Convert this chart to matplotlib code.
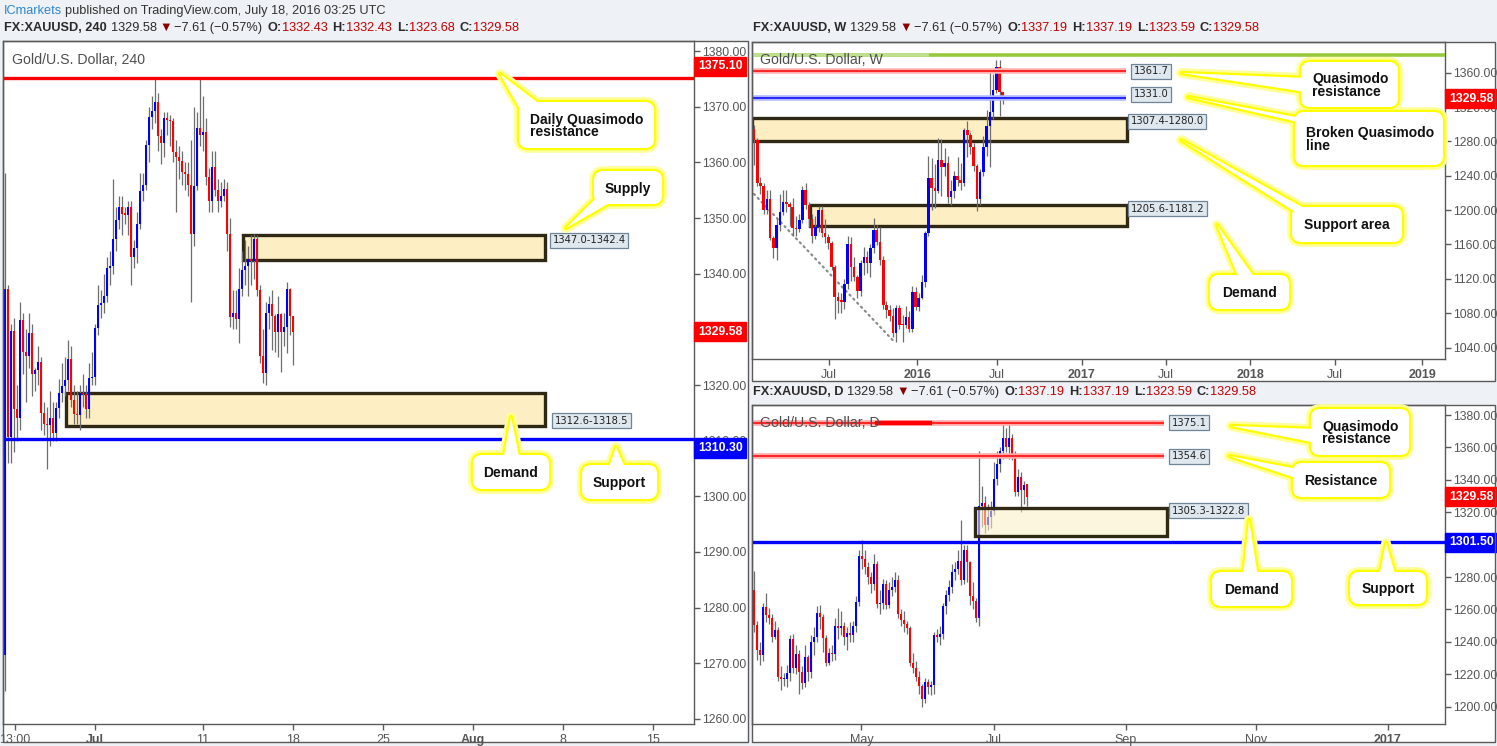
import matplotlib
matplotlib.use("Agg")
import matplotlib.pyplot as plt
from matplotlib.patches import Rectangle, FancyBboxPatch, Polygon
import numpy as np

# ------------------------------------------------------------------ DATA
# 4-hour candles (Jun 24 -> Jul 18 2016)
h4_open = [1271.5, 1337.2, 1310.7, 1329.7, 1315.6, 1314.1, 1331.7, 1326.0, 1325.3, 1329.3,
           1321.9, 1322.7, 1324.1, 1315.0, 1313.0, 1312.8, 1314.1, 1311.4, 1315.8, 1318.6,
           1319.8, 1320.9, 1324.6, 1317.3, 1314.8, 1314.6, 1318.5, 1318.3, 1315.6, 1321.2,
           1321.5, 1330.2, 1334.4, 1334.7, 1335.9, 1341.1, 1341.4, 1346.3, 1349.6, 1352.0,
           1350.8, 1350.6, 1352.0, 1343.0, 1344.7, 1349.0, 1354.8, 1355.9, 1363.1, 1368.2,
           1369.2, 1370.8, 1364.7, 1363.5, 1367.9, 1367.6, 1367.4, 1361.9, 1360.9, 1360.3,
           1358.3, 1357.9, 1356.0, 1347.2, 1355.7, 1366.2, 1365.0, 1365.4, 1357.4, 1353.1,
           1359.1, 1355.1, 1353.1, 1353.9, 1355.3, 1347.1, 1332.3, 1332.9, 1331.9, 1337.2,
           1340.6, 1341.3, 1342.6, 1342.3, 1346.2, 1337.1, 1325.3, 1322.1, 1332.9, 1334.5,
           1332.4, 1329.6, 1332.7, 1329.6, 1330.4, 1337.2, 1332.43]
h4_high = [1358, 1338, 1331, 1332, 1320, 1335, 1333, 1330, 1333, 1331,
           1323, 1327, 1325, 1317, 1316, 1319, 1317, 1317, 1321, 1324,
           1325, 1328, 1327, 1320, 1319, 1320, 1322, 1320, 1324, 1326,
           1331, 1338, 1337, 1340, 1343, 1344, 1357, 1352, 1354, 1354,
           1352, 1353, 1353, 1346, 1351, 1358, 1358, 1364, 1370, 1372,
           1375.2, 1372.5, 1366, 1369, 1369, 1368.5, 1368, 1364, 1363, 1362,
           1360, 1360, 1364, 1370, 1369, 1375.2, 1372, 1368, 1359, 1362,
           1362, 1357, 1356.5, 1357, 1356.5, 1350, 1337, 1337, 1341, 1344,
           1346, 1345, 1347, 1347.2, 1347, 1338, 1330, 1335, 1336, 1337,
           1332.8, 1336, 1333, 1333, 1338.5, 1337.5, 1332.43]
h4_low = [1265, 1306, 1306, 1308, 1310, 1312, 1322, 1317, 1323, 1318,
          1319, 1320, 1312, 1311, 1305, 1309, 1310, 1310, 1314, 1317,
          1318, 1319, 1316, 1313, 1313, 1312, 1316, 1314, 1314, 1320,
          1320, 1329, 1332, 1333, 1335, 1338, 1340, 1344, 1348, 1347,
          1349, 1347, 1338, 1341, 1342, 1348, 1353, 1355, 1360, 1366,
          1367, 1362, 1359.7, 1361, 1365, 1363, 1360, 1351, 1357, 1356,
          1355, 1354, 1335, 1345, 1355, 1363, 1362, 1356, 1351, 1351,
          1354, 1351, 1352, 1353, 1344, 1330.5, 1330, 1330, 1327.5, 1336,
          1338, 1336, 1338, 1339, 1336, 1324, 1320.3, 1320, 1330, 1326.3,
          1326, 1325, 1322.4, 1327, 1325.7, 1329, 1323.68]
h4_close = [1337.2, 1310.7, 1329.7, 1315.6, 1314.1, 1331.7, 1326.0, 1325.3, 1329.3, 1321.9,
            1322.7, 1324.1, 1315.0, 1313.0, 1312.8, 1314.1, 1311.4, 1315.8, 1318.6, 1319.8,
            1320.9, 1324.6, 1317.3, 1314.8, 1314.6, 1318.5, 1318.3, 1315.6, 1321.2, 1321.5,
            1330.2, 1334.4, 1334.7, 1335.9, 1341.1, 1341.4, 1346.3, 1349.6, 1352.0, 1350.8,
            1350.6, 1352.0, 1343.0, 1344.7, 1349.0, 1354.8, 1355.9, 1363.1, 1368.2, 1369.2,
            1370.8, 1364.7, 1363.5, 1367.9, 1367.6, 1367.4, 1361.9, 1360.9, 1360.3, 1358.3,
            1357.9, 1356.0, 1347.2, 1355.7, 1366.2, 1365.0, 1365.4, 1357.4, 1353.1, 1359.1,
            1355.1, 1353.1, 1353.9, 1355.3, 1347.1, 1332.3, 1332.9, 1331.9, 1337.2, 1340.6,
            1341.3, 1342.6, 1342.3, 1346.2, 1337.1, 1325.3, 1322.1, 1332.9, 1334.5, 1332.4,
            1329.6, 1332.7, 1329.6, 1330.4, 1337.2, 1332.4, 1329.58]
h4_tick_pos = [3.3, 30, 66, 96, 126, 156, 186, 216]
h4_tick_lab = ['13:00', 'Jul', '11', '18', '25', 'Aug', '8', '15']
h4_yticks = [1260, 1270, 1280, 1290, 1300, 1310, 1320, 1340, 1350, 1360, 1370, 1380]
h4_qm_res = 1375.10
h4_support = 1310.30
h4_supply = (1342.4, 1347.0)
h4_demand = (1312.6, 1318.5)

# weekly candles (Jan 26 2015 -> Jul 18 2016)
w_open = [1294, 1281.7, 1232, 1228.5, 1200.2, 1213, 1167.2, 1156.4, 1182.8, 1198.3,
          1209.1, 1207.2, 1203.3, 1178.9, 1177.7, 1188.6, 1223.5, 1206, 1189.4, 1170.3,
          1180.8, 1200.2, 1173.8, 1169.2, 1162.2, 1134.2, 1098.6, 1094.7, 1093.5, 1114.1,
          1160.6, 1134.2, 1121.8, 1106.3, 1138.1, 1145.9, 1138.1, 1155.6, 1176.9, 1163.4,
          1142, 1089.6, 1083.8, 1076.8, 1056.7, 1085.8, 1066.4, 1066.0, 1076.1, 1061.3,
          1105.2, 1087.7, 1097.4, 1116.8, 1173, 1237.1, 1225.4, 1222.7, 1258.4, 1249.9,
          1254.5, 1215.7, 1222.7, 1239.8, 1235.1, 1232, 1293.3, 1287.5, 1273.9, 1251.4,
          1212.6, 1244.8, 1273.2, 1298, 1314.7, 1339.9, 1366.5, 1337.19]
w_high = [1299, 1284, 1238, 1232, 1223, 1224, 1170, 1190, 1219, 1224,
          1224, 1209, 1214, 1193, 1195, 1228, 1232, 1209, 1195, 1193,
          1205, 1205, 1190, 1172, 1164, 1136, 1105, 1104, 1120, 1170,
          1169, 1146, 1125, 1142, 1157, 1152, 1160, 1190.5, 1183, 1180,
          1147, 1094, 1090, 1086, 1090, 1089, 1078, 1088, 1082, 1112,
          1111, 1103, 1124, 1176, 1263, 1261, 1254, 1283.6, 1283, 1272,
          1263, 1235, 1245, 1262, 1255, 1296, 1304, 1291, 1278, 1254,
          1248, 1286, 1316, 1362, 1358, 1375, 1375, 1337.19]
w_low = [1252.6, 1228, 1219, 1195, 1196, 1165, 1144, 1142, 1176, 1194,
         1198, 1181, 1170, 1170, 1174, 1185, 1201, 1180, 1162, 1166,
         1174, 1169, 1162, 1155, 1130, 1073, 1080, 1080, 1085, 1108,
         1118, 1118, 1098, 1100, 1124, 1127, 1122, 1150, 1159, 1136,
         1085, 1075, 1071, 1052, 1046, 1062, 1047, 1063, 1058, 1058,
         1084, 1083, 1096, 1111, 1170, 1200, 1202, 1220, 1216, 1240,
         1208, 1206, 1214, 1228, 1223, 1228, 1262, 1265, 1245, 1199,
         1206, 1240, 1263, 1250, 1306, 1336, 1310, 1323.59]
w_close = [1281.7, 1232, 1228.5, 1200.2, 1213, 1167.2, 1156.4, 1182.8, 1198.3, 1209.1,
           1207.2, 1203.3, 1178.9, 1177.7, 1188.6, 1223.5, 1206, 1189.4, 1170.3, 1180.8,
           1200.2, 1173.8, 1169.2, 1162.2, 1134.2, 1098.6, 1094.7, 1093.5, 1114.1, 1160.6,
           1134.2, 1121.8, 1106.3, 1138.1, 1145.9, 1138.1, 1155.6, 1176.9, 1163.4, 1142,
           1089.6, 1083.8, 1076.8, 1056.7, 1085.8, 1066.4, 1066.0, 1076.1, 1061.3, 1105.2,
           1087.7, 1097.4, 1116.8, 1173, 1237.1, 1225.4, 1222.7, 1258.4, 1249.9, 1254.5,
           1215.7, 1222.7, 1239.8, 1235.1, 1232, 1293.3, 1287.5, 1273.9, 1251.4, 1212.6,
           1244.8, 1273.2, 1298, 1314.7, 1339.9, 1366.5, 1337.2, 1329.58]
w_tick_pos = [23.2, 50.6, 75.3, 101.4, 127.6, 153.6, 179.9, 206.8]
w_tick_lab = ['Jul', '2016', 'Jul', '2017', 'Jul', '2018', 'Jul', '2019']
w_yticks = [1040, 1080, 1120, 1160, 1200, 1240, 1280, 1320, 1360]
w_qm_res = 1361.7
w_broken_qm = 1331.0
w_top_line = 1380.6
w_support_area = (1280.0, 1307.4)
w_demand = (1181.2, 1205.6)
w_trend_x = [-1.2, 43.1]
w_trend_y = [1223.5, 1048.0]

# daily candles (Mar 11 -> Jul 18 2016)
d_open = [1272, 1250.4, 1235, 1232, 1261.7, 1256.5, 1254.5, 1243.2, 1247.3, 1218.5,
          1216.8, 1217.2, 1221, 1241.5, 1223.6, 1232.5, 1221.6, 1214.8, 1230.4, 1221.6,
          1240.1, 1243, 1257.6, 1255.5, 1242.1, 1227.1, 1232.9, 1232.5, 1249.8, 1248.3,
          1249.8, 1243.2, 1245.6, 1244, 1250, 1264.8, 1293, 1291, 1286, 1280,
          1276, 1288, 1263.3, 1264, 1276, 1263, 1272, 1273.6, 1278, 1257.5,
          1253.4, 1251, 1248.3, 1226.7, 1223.6, 1218.4, 1212.7, 1204.5, 1215.4, 1212.3,
          1213.3, 1244.2, 1243.2, 1245, 1262, 1269, 1273.6, 1283.3, 1285, 1290,
          1278, 1297, 1289, 1268, 1265, 1255, 1324, 1326, 1312, 1317,
          1321, 1340.3, 1350, 1358, 1365.6, 1360, 1366, 1354.3, 1332.7, 1342,
          1333.7, 1337.19]
d_high = [1284, 1253, 1240, 1264, 1270, 1261, 1257, 1253, 1249, 1225,
          1221, 1226, 1244, 1245, 1238, 1235, 1225, 1238, 1232, 1244,
          1249, 1262, 1263, 1257, 1244, 1236, 1238, 1255, 1261, 1259,
          1252, 1249, 1252, 1253, 1268, 1297, 1303, 1297, 1289, 1283,
          1294, 1290, 1272, 1279, 1278, 1277, 1280, 1283, 1281, 1260,
          1259, 1253, 1250, 1233, 1228, 1222, 1214, 1218, 1217, 1216,
          1246, 1248, 1250, 1264, 1272, 1278, 1288, 1289, 1297, 1315,
          1300, 1300, 1290, 1277, 1267, 1358, 1336, 1330, 1325, 1327,
          1351, 1358, 1360, 1375, 1372, 1375, 1368, 1358, 1347, 1345,
          1339, 1337.19]
d_low = [1246, 1229, 1226, 1228, 1252, 1251, 1240, 1242, 1216, 1210,
         1213, 1212, 1216, 1221, 1220, 1208, 1211, 1212, 1216, 1218,
         1232, 1240, 1248, 1234, 1225, 1226, 1228, 1229, 1242, 1244,
         1238, 1235, 1240, 1240, 1246, 1262, 1285, 1282, 1276, 1270,
         1272, 1261, 1257, 1260, 1260, 1261, 1268, 1271, 1255, 1250,
         1246, 1245, 1225, 1221, 1216, 1208, 1200, 1202, 1208, 1207,
         1208, 1240, 1238, 1242, 1257, 1265, 1270, 1278, 1282, 1275,
         1276, 1277, 1263, 1260, 1252, 1250, 1311, 1307, 1309, 1310,
         1318, 1337, 1345, 1353, 1357, 1353, 1352, 1330, 1330, 1320,
         1325, 1323.59]
d_close = [1250.4, 1235, 1232, 1261.7, 1256.5, 1254.5, 1243.2, 1247.3, 1218.5, 1216.8,
           1217.2, 1221, 1241.5, 1223.6, 1232.5, 1221.6, 1214.8, 1230.4, 1221.6, 1240.1,
           1243, 1257.6, 1255.5, 1242.1, 1227.1, 1232.9, 1232.5, 1249.8, 1248.3, 1249.8,
           1243.2, 1245.6, 1244, 1250, 1264.8, 1293, 1291, 1286, 1280, 1276,
           1288, 1263.3, 1264, 1276, 1263, 1272, 1273.6, 1278, 1257.5, 1253.4,
           1251, 1248.3, 1226.7, 1223.6, 1218.4, 1212.7, 1204.5, 1215.4, 1212.3, 1213.3,
           1244.2, 1243.2, 1245, 1262, 1269, 1273.6, 1283.3, 1285, 1290, 1278,
           1297, 1289, 1268, 1265, 1255, 1324, 1326, 1312, 1317, 1321,
           1340.3, 1350, 1358, 1365.6, 1360, 1366, 1354.3, 1332.7, 1342, 1333.7,
           1337, 1329.58]
d_tick_pos = [35.8, 80, 123.9, 167.2, 211.3]
d_tick_lab = ['May', 'Jul', 'Sep', 'Nov', '2017']
d_yticks = [1200, 1220, 1240, 1260, 1280, 1320, 1340, 1360, 1380]
d_qm_res = 1375.1
d_resistance = 1354.6
d_support = 1301.50
d_demand = (1305.3, 1322.8)
last_close = 1329.58

# ------------------------------------------------------------------ STYLE
W, H = 1497, 746
PAGE = '#eef1f5'
UP, DN, WICK = '#0000ff', '#ff0000', '#6e6e6e'
GRID_TXT = '#555555'
SPINE = '#5a5a5a'
ZONE_FC = '#fdefc3'
ZONE_EC = '#2e2815'
NARROW = ['Liberation Sans Narrow', 'Liberation Sans', 'DejaVu Sans']
BOLD = ['Liberation Sans', 'DejaVu Sans']

fig = plt.figure(figsize=(W / 100, H / 100), dpi=100, facecolor=PAGE)


def px_axes(x0, y0, x1, y1, z=1):
    return fig.add_axes([x0 / W, 1 - y1 / H, (x1 - x0) / W, (y1 - y0) / H], zorder=z)


# background panels (white) in pixel space
bg = px_axes(0, 0, W, H, z=-10)
bg.set_xlim(0, W); bg.set_ylim(H, 0); bg.axis('off')
panels = [(3, 41, 748, 742), (752, 42, 1495, 381), (752, 405, 1495, 742)]
for (x0, y0, x1, y1) in panels:
    bg.add_patch(Rectangle((x0, y0), x1 - x0, y1 - y0, fc='white', ec='none'))

# overlay in pixel space
ov = px_axes(0, 0, W, H, z=10)
ov.set_xlim(0, W); ov.set_ylim(H, 0); ov.axis('off')
ov.patch.set_alpha(0)
for (x0, y0, x1, y1) in panels:
    ov.add_patch(Rectangle((x0, y0), x1 - x0, y1 - y0, fc='none', ec=SPINE, lw=1))


def draw_candles(ax, o, h, l, c, width, minh, z=3):
    o, h, l, c = map(np.asarray, (o, h, l, c))
    x = np.arange(len(o))
    up = c >= o
    ax.vlines(x, l, h, color=WICK, lw=0.9, zorder=z)
    body = np.maximum(np.abs(c - o), minh)
    ax.bar(x, body, width, bottom=np.minimum(o, c), color=np.where(up, UP, DN),
           lw=0, zorder=z + 1, antialiased=False)


def style_axes(ax, xlim, ylim, xticks, xlabels, bold_labels, yticks):
    ax.set_xlim(*xlim); ax.set_ylim(*ylim)
    ax.set_facecolor('white')
    for s in ax.spines.values():
        s.set_color(SPINE); s.set_linewidth(1)
    ax.yaxis.tick_right()
    ax.set_yticks(yticks)
    ax.set_yticklabels([f'{v:.2f}' for v in yticks])
    ax.set_xticks(xticks)
    ax.set_xticklabels(xlabels)
    ax.tick_params(axis='y', direction='out', length=4, width=1, color=SPINE,
                   labelcolor=GRID_TXT, labelsize=8.8, pad=2)
    ax.tick_params(axis='x', direction='out', length=4, width=1, color=SPINE,
                   labelcolor=GRID_TXT, labelsize=9, pad=3)
    for t in ax.get_yticklabels() + ax.get_xticklabels():
        t.set_family(NARROW)
    for t in ax.get_xticklabels():
        if t.get_text() in bold_labels:
            t.set_fontweight('bold')


def tag(ax, price, text, color, dy=0):
    ax.annotate(text, xy=(1, price), xycoords=('axes fraction', 'data'),
                xytext=(4, dy), textcoords='offset pixels', ha='left', va='center',
                color='white', fontsize=8.8, fontweight='bold', family=NARROW,
                bbox=dict(boxstyle='square,pad=0.3', fc=color, ec=color),
                annotation_clip=False, zorder=30)


def zone_label(ax, x, y, text, va):
    ax.text(x, y, text, ha='left', va=va, fontsize=7.2, color='#222222',
            family=['DejaVu Sans'], zorder=25,
            bbox=dict(boxstyle='square,pad=0.25', fc='#dfe7ef', ec='#6f8496', lw=0.9))


def halo_line(ax, y, x0, x1, core, halo, lwc=1.3, lwh=4):
    ax.hlines(y, x0, x1, color=halo, lw=lwh, zorder=5)
    ax.hlines(y, x0, x1, color=core, lw=lwc, zorder=5.1)


def panel_title(ax, text, dx, dy):
    ax.annotate(text, xy=(0, 1), xycoords='axes fraction', xytext=(dx, -dy),
                textcoords='offset pixels', ha='left', va='center', fontsize=10.2,
                color='#4f4f4f', family=NARROW, zorder=20)


# ------------------------------------------------------------------ 4H PANEL
ax4 = px_axes(3, 41, 694, 724)
style_axes(ax4, (-0.67, 229.67), (1259.1, 1381.8), h4_tick_pos, h4_tick_lab,
           ('Jul', 'Aug'), h4_yticks)
ax4.add_patch(Rectangle((79.3, h4_supply[0]), 100.7, h4_supply[1] - h4_supply[0],
                        fc=ZONE_FC, ec=ZONE_EC, lw=2.4, zorder=1))
ax4.add_patch(Rectangle((20.3, h4_demand[0]), 159.7, h4_demand[1] - h4_demand[0],
                        fc=ZONE_FC, ec=ZONE_EC, lw=2.4, zorder=1))
draw_candles(ax4, h4_open, h4_high, h4_low, h4_close, 0.9, 0.25)
ax4.axhline(h4_qm_res, color='#ff0000', lw=2.4, zorder=6)
ax4.axhline(h4_support, color='#0000ff', lw=2.4, zorder=6)
zone_label(ax4, 182.6, 1346.9, '1347.0-1342.4', 'top')
zone_label(ax4, 183.3, 1312.7, '1312.6-1318.5', 'bottom')
tag(ax4, h4_qm_res, '1375.10', '#ff0000', dy=12)
tag(ax4, last_close, '1329.58', '#ff0000')
tag(ax4, h4_support, '1310.30', '#0000ff', dy=-9)
panel_title(ax4, 'Gold/U.S. Dollar, 240', 9, 19)

# ------------------------------------------------------------------ WEEKLY PANEL
axw = px_axes(752, 42, 1445, 359)
style_axes(axw, (-0.62, 213.9), (1026.7, 1395.7), w_tick_pos, w_tick_lab,
           ('2016', '2017', '2018', '2019'), w_yticks)
axw.add_patch(Rectangle((-0.62, w_support_area[0]), 116.1,
                        w_support_area[1] - w_support_area[0],
                        fc=ZONE_FC, ec=ZONE_EC, lw=2.4, zorder=1))
axw.add_patch(Rectangle((17.3, w_demand[0]), 98.2, w_demand[1] - w_demand[0],
                        fc=ZONE_FC, ec=ZONE_EC, lw=2.4, zorder=1))
axw.plot(w_trend_x, w_trend_y, color='#8a8a8a', lw=1.6, ls=(0, (0.6, 1.9)),
         dash_capstyle='round', zorder=2)
draw_candles(axw, w_open, w_high, w_low, w_close, 0.8, 1.5)
axw.hlines(w_top_line, -0.62, 213.9, color='#97c93d', lw=2.6, zorder=5)
axw.hlines(w_top_line, -0.62, 54.2, color='#bfe08f', lw=2.6, zorder=5.1)
halo_line(axw, w_qm_res, -0.62, 115.0, '#ff1a1a', '#ffb0b0')
halo_line(axw, w_broken_qm, -0.62, 115.0, '#1a1aff', '#b0b8ff')
zone_label(axw, 117.6, w_qm_res, '1361.7', 'center')
zone_label(axw, 117.6, 1334.6, '1331.0', 'center')
zone_label(axw, 116.6, 1309.0, '1307.4-1280.0', 'top')
zone_label(axw, 116.6, 1207.3, '1205.6-1181.2', 'top')
tag(axw, last_close, '1329.58', '#ff0000')
panel_title(axw, 'Gold/U.S. Dollar, W', 8, 18)

# ------------------------------------------------------------------ DAILY PANEL
axd = px_axes(752, 405, 1445, 724)
style_axes(axd, (-0.67, 230.3), (1189.3, 1386.2), d_tick_pos, d_tick_lab,
           ('2017',), d_yticks)
draw_candles(axd, d_open, d_high, d_low, d_close, 0.8, 0.8)
axd.add_patch(Rectangle((73.7, d_demand[0]), 64.0, d_demand[1] - d_demand[0],
                        fc=(253 / 255, 239 / 255, 195 / 255, 0.55), ec=ZONE_EC,
                        lw=2.4, zorder=6))
halo_line(axd, d_qm_res, -0.67, 136.7, '#ff1a1a', '#ffa8a8')
axd.hlines(d_qm_res, 40.3, 59.3, color='#ff0000', lw=3.2, zorder=5.2)
halo_line(axd, d_resistance, -0.67, 136.7, '#ff1a1a', '#ffa8a8')
axd.axhline(d_support, color='#0000ff', lw=2.4, zorder=6)
zone_label(axd, 139.3, d_qm_res, '1375.1', 'center')
zone_label(axd, 139.3, d_resistance, '1354.6', 'center')
zone_label(axd, 139.3, 1323.9, '1305.3-1322.8', 'top')
tag(axd, last_close, '1329.58', '#ff0000')
tag(axd, d_support, '1301.50', '#0000ff')
panel_title(axd, 'Gold/U.S. Dollar, D', 8, 18)

# ------------------------------------------------------------------ CALLOUTS
def callout(box, tip, base, text, tx=None):
    x0, y0, x1, y1 = box
    for lw, col, fill, z in [(7, '#ffff9c', False, 11), (3.2, '#ffff00', False, 12),
                             (0, 'white', True, 13)]:
        b = FancyBboxPatch((x0, y0), x1 - x0, y1 - y0,
                           boxstyle='round,pad=0,rounding_size=9',
                           fc='white' if fill else 'none',
                           ec='none' if fill else col, lw=lw, zorder=z)
        p = Polygon([tip, base[0], base[1]], closed=True,
                    fc='white' if fill else 'none',
                    ec='none' if fill else col, lw=lw, joinstyle='round', zorder=z)
        ov.add_patch(b); ov.add_patch(p)
    cx = (x0 + x1) / 2 if tx is None else tx
    ov.text(cx, (y0 + y1) / 2 + 1, text, ha='center' if tx is None else 'left',
            va='center', fontsize=10, fontweight='bold', color='#111111',
            family=BOLD, linespacing=0.85, multialignment='left', zorder=14)


callout((519, 102, 654, 148), (500, 74), [(524, 116), (541, 105)],
        'Daily Quasimodo\nresistance', tx=530)
callout((594, 171, 662, 204), (566, 228), [(598, 196), (613, 201)], 'Supply')
callout((473, 455, 549, 489), (511, 417), [(503, 461), (520, 461)], 'Demand')
callout((582, 465, 657, 499), (616, 447), [(608, 470), (626, 470)], 'Support')

callout((1301, 62, 1398, 107), (1181, 73), [(1306, 78), (1306, 92)],
        'Quasimodo\nresistance', tx=1312)
callout((1295, 112, 1443, 165), (1188, 97), [(1301, 118), (1311, 125)],
        'Broken Quasimodo\nline', tx=1306)
callout((1292, 207, 1402, 242), (1181, 140), [(1297, 213), (1313, 213)], 'Support area')
callout((1210, 275, 1289, 309), (1217, 225), [(1240, 281), (1257, 281)], 'Demand')

callout((1311, 409, 1409, 455), (1231, 426), [(1316, 429), (1316, 443)],
        'Quasimodo\nresistance', tx=1322)
callout((1293, 463, 1389, 497), (1229, 456), [(1298, 469), (1305, 481)], 'Resistance')
callout((1212, 572, 1291, 606), (1249, 520), [(1243, 577), (1258, 577)], 'Demand')
callout((1350, 572, 1426, 604), (1386, 543), [(1379, 577), (1396, 577)], 'Support')

# ------------------------------------------------------------------ HEADERS
def rich(x, y, pieces, size=9.2):
    txt, col, wt, gap = pieces[0]
    t = ov.text(x, y, txt, color=col, fontsize=size, fontweight=wt,
                family=NARROW, ha='left', va='center', zorder=20)
    prev_gap = gap
    for txt, col, wt, gap in pieces[1:]:
        t = ov.annotate(txt, xy=(1, 0), xycoords=t, xytext=(prev_gap, 0),
                        textcoords='offset pixels', ha='left', va='bottom',
                        color=col, fontsize=size, fontweight=wt, family=NARROW,
                        zorder=20)
        prev_gap = gap


DARK, VAL = '#2a2a2a', '#c00000'


def ohlc_header(x, y, sym, o, h, l, c):
    rich(x, y, [(sym, DARK, 'bold', 4), ('1329.58', DARK, 'normal', 3),
                ('\u25bc', '#8b0000', 'normal', 2), ('\u22127.61 (\u22120.57%)', DARK, 'normal', 5),
                ('O:', DARK, 'bold', 0), (o, VAL, 'normal', 5),
                ('H:', DARK, 'bold', 0), (h, VAL, 'normal', 5),
                ('L:', DARK, 'bold', 0), (l, VAL, 'normal', 5),
                ('C:', DARK, 'bold', 0), (c, VAL, 'normal', 0)])


rich(4, 11, [('ICmarkets', '#2f86cf', 'normal', 3),
             ('published on TradingView.com, July 18, 2016 03:25 UTC', '#333333', 'normal', 0)])
ohlc_header(4, 28, 'FX:XAUUSD, 240', '1332.43', '1332.43', '1323.68', '1329.58')
ohlc_header(753, 28, 'FX:XAUUSD, W', '1337.19', '1337.19', '1323.59', '1329.58')
ohlc_header(753, 392, 'FX:XAUUSD, D', '1337.19', '1337.19', '1323.59', '1329.58')

fig.savefig('out.png', dpi=100, facecolor=PAGE)
